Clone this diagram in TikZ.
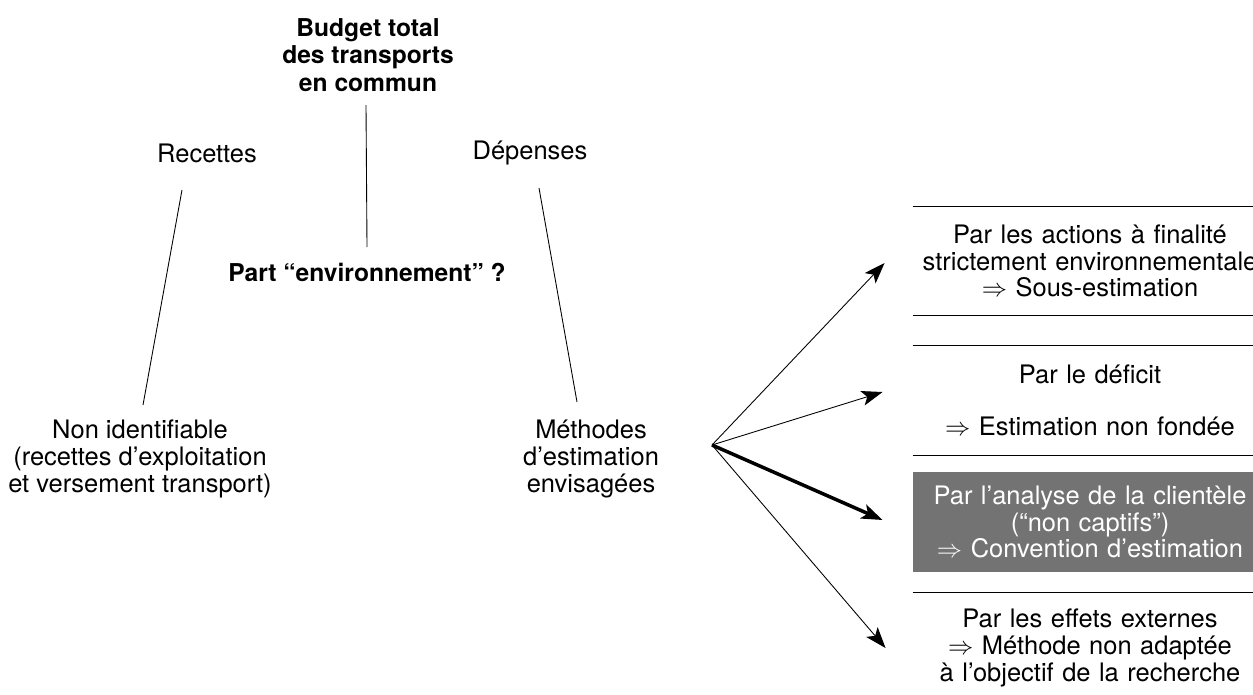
\documentclass[tikz,border=0pt]{standalone}
\usepackage{fontspec}
\setmainfont{TeX Gyre Heros}
\usetikzlibrary{arrows.meta}
\definecolor{grisfonce}{RGB}{115,115,115}

\begin{document}
\begin{tikzpicture}[align = center, line width = 0.5pt,
	every node/.style = {inner sep = 0pt, font = \fontsize{14.5}{15.2}\selectfont},
	titre/.style = {font = \fontsize{14}{15.6}\selectfont\bfseries},
	methode/.style = {text width = 7.08cm, minimum height = 2.16cm},
	fleche/.style = {-{Stealth[length = 0.42cm, width = 0.3cm, inset = 0.1cm]}}]
	\useasboundingbox (0,0) rectangle (25.06,-13.88);
	\node[titre] (budget) at (7.36,-1.1) {Budget total \\ des transports \\ en commun};
	\node[titre] (part) at (7.34,-5.44) {Part ``environnement'' ?};
	\node (rec) at (4.14,-3.06) {Recettes};
	\node (dep) at (10.6,-3.06) {Dépenses};
	\node (nonid) at (2.8,-9.18) {Non identifiable \\ (recettes d'exploitation \\ et versement transport)};
	\node (meth) at (11.82,-9.18) {Méthodes \\ d'estimation \\ envisagées};
	\coordinate (o) at (14.24,-8.9);
	\node[methode] (m1) at (21.8,-5.22) {Par les actions à finalité \\ strictement environnementale \\ $\Rightarrow$ Sous-estimation};
	\node[methode, minimum height = 2.18cm] (m2) at (21.8,-8.01) {Par le déficit \\[14.5pt] $\Rightarrow$ Estimation non fondée};
	\node[methode, minimum height = 2cm, fill = grisfonce, text = white] (m3) at (21.8,-10.44) {Par l'analyse de la clientèle \\ (``non captifs'') \\ $\Rightarrow$ Convention d'estimation};
	\node[methode, minimum height = 2.2cm] (m4) at (21.8,-12.96) {Par les effets externes \\ $\Rightarrow$ Méthode non adaptée \\ à l'objectif de la recherche};
	\draw (m1.north west) -- (m1.north east);
	\draw (m1.south west) -- (m1.south east);
	\draw (m2.north west) -- (m2.north east);
	\draw (m2.south west) -- (m2.south east);
	\draw (m4.north west) -- (m4.north east);
	\draw ([xshift = -0.04cm, yshift = -1cm]budget.center) -- ([yshift = 0.5cm]part.center);
	\draw ([xshift = -0.5cm, yshift = -0.74cm]rec.center) -- ([xshift = 0.06cm, yshift = 1.08cm]nonid.center);
	\draw ([xshift = 0.18cm, yshift = -0.7cm]dep.center) -- ([xshift = -0.28cm, yshift = 1.14cm]meth.center);
	\draw[fleche] (o) -- ([xshift = -0.56cm, yshift = -0.04cm]m1.west);
	\draw[fleche] (o) -- ([xshift = -0.6cm, yshift = 0.17cm]m2.west);
	\draw[fleche, line width = 2pt] (o) -- ([xshift = -0.6cm, yshift = 0.04cm]m3.west);
	\draw[fleche] (o) -- ([xshift = -0.54cm]m4.west);
\end{tikzpicture}
\end{document}
